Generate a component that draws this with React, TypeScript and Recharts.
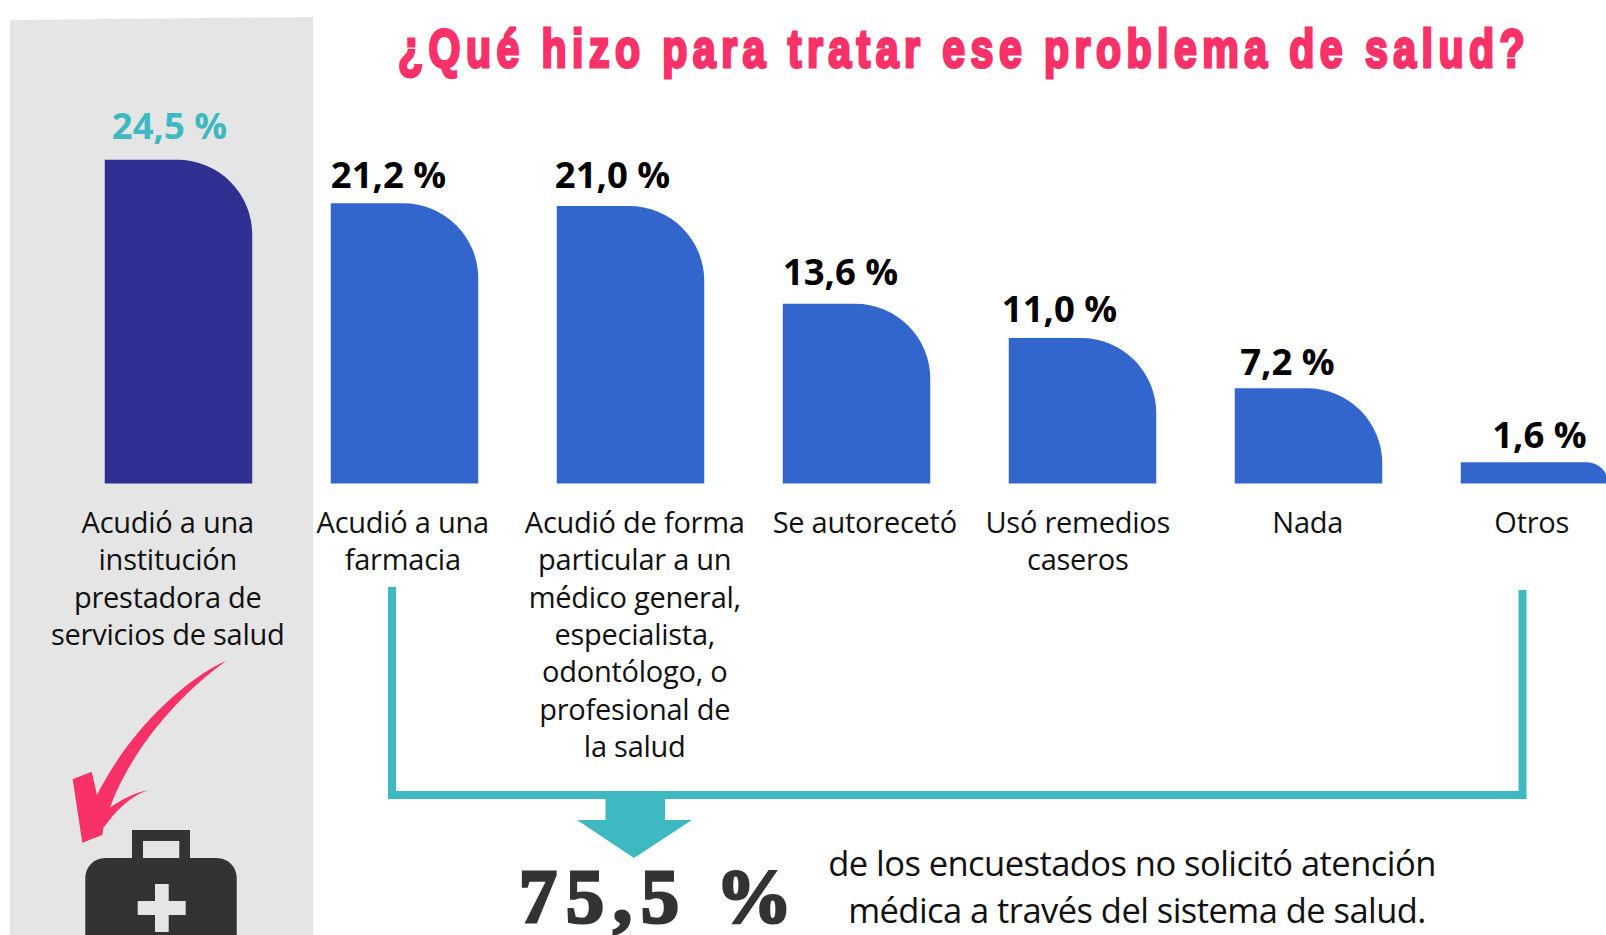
import React from "react";
import { BarChart, Bar, XAxis, YAxis, LabelList } from "recharts";

const categories = [
  "Acudió a una\ninstitución\nprestadora de\nservicios de salud",
  "Acudió a una\nfarmacia",
  "Acudió de forma\nparticular a un\nmédico general,\nespecialista,\nodontólogo, o\nprofesional de\nla salud",
  "Se autorecetó",
  "Usó remedios\ncaseros",
  "Nada",
  "Otros",
];
const values = [24.5, 21.2, 21.0, 13.6, 11.0, 7.2, 1.6];

const data = categories.map((name, i) => ({ name, value: values[i] }));

const DARK = "#2E3192";
const BLUE = "#3366CC";
const TEAL = "#3FB9C1";
const PINK = "#F83268";
const GREY = "#E5E5E5";
const INK = "#333333";
const FONT = "'Open Sans', sans-serif";

// the labels in the original sit a bit off centre of their bars
const tickShift = [-11, -2, 4, 8, -5, -1, -3];
const valueShift = [-9, -16, -18, -16, -23, -21, 5];
const valueLift = [21, 15, 18, 19, 16, 13, 14];

const RoundedBar = (props: any) => {
  const { x, y, width, height, index } = props;
  const r = Math.min(75, height);
  const path = `M${x},${y + height} L${x},${y} L${x + width - r},${y} A${r},${r} 0 0 1 ${x + width},${y + r} L${x + width},${y + height} Z`;
  return <path d={path} fill={index === 0 ? DARK : BLUE} />;
};

const CategoryTick = ({ x, y, payload, index }: any) => {
  const lines = String(payload.value).split("\n");
  return (
    <text x={x + tickShift[index]} y={y} textAnchor="middle" fontFamily={FONT} fontSize={29} letterSpacing={-0.25} fill="#111">
      {lines.map((line, i) => (
        <tspan key={i} x={x + tickShift[index]} y={533 + i * 37.3}>
          {line}
        </tspan>
      ))}
    </text>
  );
};

const ValueLabel = ({ x, y, width, value, index }: any) => (
  <text
    x={x + width / 2 + valueShift[index]}
    y={y - valueLift[index]}
    textAnchor="middle"
    fontFamily={FONT}
    fontWeight={700}
    fontSize={36.5}
    fill={index === 0 ? TEAL : "#000"}
  >
    {Number(value).toFixed(1).replace(".", ",")} %
  </text>
);

export default function App() {
  return (
    <div style={{ position: "absolute", left: 0, top: 0, width: 1606, height: 935, overflow: "hidden", background: "#fff" }}>
      <svg width={1606} height={935} style={{ position: "absolute", left: 0, top: 0 }}>
        <polygon points="10,20 313,17 313,935 10,935" fill={GREY} />
      </svg>
      <div style={{ position: "absolute", left: 0, top: 0 }}>
        <BarChart width={1660} height={935} data={data} margin={{ top: 87, right: 12.25, bottom: 391.5, left: 65.75 }}>
          <XAxis dataKey="name" height={60} axisLine={false} tickLine={false} interval={0} tick={<CategoryTick />} />
          <YAxis hide domain={[0, 30]} />
          <Bar dataKey="value" barSize={147.5} shape={<RoundedBar />} isAnimationActive={false}>
            <LabelList dataKey="value" content={<ValueLabel />} />
          </Bar>
        </BarChart>
      </div>
      <svg width={1606} height={935} style={{ position: "absolute", left: 0, top: 0 }}>
        {/* no condensed heavy font here, so squeeze a bold one */}
        <g transform="translate(964,67) scale(0.76,1)">
          <text textAnchor="middle" fontFamily="'Liberation Sans', sans-serif" fontWeight={700} fontSize={54} letterSpacing={7.2} fill={PINK} stroke={PINK} strokeWidth={3}>
            ¿Qué hizo para tratar ese problema de salud?
          </text>
        </g>

        {/* bracket and arrow */}
        <path d="M392,587 L392,795 L1522.5,795 L1522.5,590" fill="none" stroke={TEAL} strokeWidth={8} />
        <polygon points="605.5,799 665,799 665,820 692,820 634,858 577,820 605.5,820" fill={TEAL} />

        <text x={660} y={922} textAnchor="middle" fontFamily="'Liberation Serif', serif" fontWeight={700} fontSize={76} letterSpacing={9} fill={INK} stroke={INK} strokeWidth={3}>
          75,5 %
        </text>
        <text textAnchor="middle" fontFamily={FONT} fontSize={34.5} letterSpacing={-0.55} fill="#111">
          <tspan x={1132} y={876}>de los encuestados no solicitó atención</tspan>
          <tspan x={1137} y={923}>médica a través del sistema de salud.</tspan>
        </text>

        {/* pink swoosh */}
        <path
          d="M226,661 C195,674 135,720 97,795 L91.7,771.7 L72.7,779.3 L82.3,842.7 L102.3,835 L103.3,828 C118,808 130,797 148.3,790 C135,793 122,799 110,807.7 C125,765 165,705 226,661 Z"
          fill={PINK}
        />

        {/* medical kit */}
        <path d="M132,858 L132,830 L190,830 L190,858 L179.3,858 L179.3,841 L143,841 L143,858 Z" fill={INK} />
        <path d="M85.3,935 L85.3,878 A20,20 0 0 1 105.3,858 L216.7,858 A20,20 0 0 1 236.7,878 L236.7,935 Z" fill={INK} />
        <path d="M155,884 L168.7,884 L168.7,901 L185.7,901 L185.7,915 L168.7,915 L168.7,932 L155,932 L155,915 L137.7,915 L137.7,901 L155,901 Z" fill={GREY} />
      </svg>
    </div>
  );
}
